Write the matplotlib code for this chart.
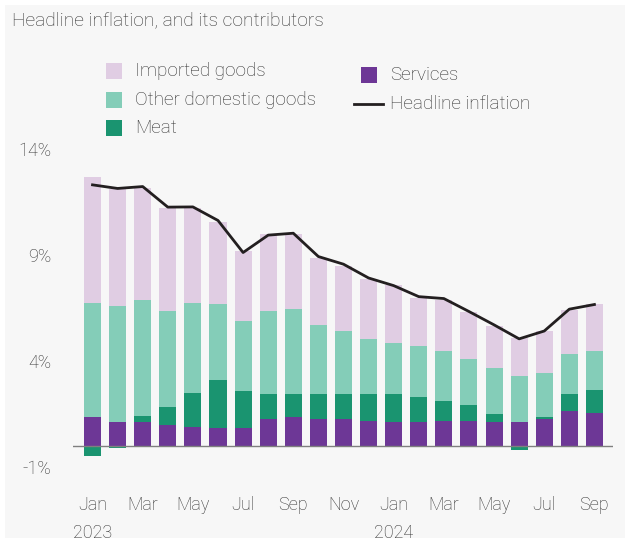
import numpy as np
import matplotlib
matplotlib.use('Agg')
from matplotlib import pyplot as plt
from matplotlib.patches import Rectangle
from matplotlib.lines import Line2D
import matplotlib.transforms as mtransforms

plt.rcParams['font.family'] = ['Roboto', 'DejaVu Sans']
plt.rcParams['font.weight'] = 'light'

# Monthly contributions to headline inflation (percentage points), Jan 2023 - Sep 2024
months = ['Jan', 'Feb', 'Mar', 'Apr', 'May', 'Jun', 'Jul', 'Aug', 'Sep', 'Oct', 'Nov', 'Dec',
          'Jan', 'Feb', 'Mar', 'Apr', 'May', 'Jun', 'Jul', 'Aug', 'Sep']
services = [1.35, 1.13, 1.15, 0.99, 0.91, 0.85, 0.85, 1.29, 1.35, 1.29, 1.29, 1.19,
            1.15, 1.15, 1.19, 1.19, 1.15, 1.13, 1.27, 1.65, 1.57]
meat = [-0.47, -0.10, 0.27, 0.87, 1.61, 2.28, 1.76, 1.16, 1.10, 1.16, 1.16, 1.26,
        1.30, 1.15, 0.95, 0.74, 0.34, -0.17, 0.10, 0.80, 1.09]
other_domestic = [5.40, 5.47, 5.47, 4.52, 4.23, 3.57, 3.27, 3.93, 4.01, 3.23, 2.99, 2.61,
                  2.41, 2.42, 2.34, 2.19, 2.19, 2.17, 2.09, 1.90, 1.82]
imported = [5.94, 5.51, 5.28, 4.85, 4.45, 3.87, 3.30, 3.60, 3.54, 3.20, 3.06, 2.80,
            2.72, 2.26, 2.41, 2.20, 1.98, 1.78, 1.98, 2.07, 2.22]
headline = [12.31, 12.14, 12.23, 11.26, 11.27, 10.63, 9.12, 9.94, 10.03, 8.93, 8.57, 7.92,
            7.56, 7.04, 6.95, 6.34, 5.71, 5.05, 5.42, 6.45, 6.67]

c_imported = '#e0cde3'
c_other = '#84cdb8'
c_meat = '#1a9470'
c_services = '#6d3796'
c_text = '#303030'

x = np.arange(len(months))
services = np.array(services)
meat = np.array(meat)
other_domestic = np.array(other_domestic)
imported = np.array(imported)

fig = plt.figure(figsize=(6.25, 5.43), dpi=100, facecolor='white')
fig.add_artist(Rectangle((5 / 625, 5 / 543), 1, 533 / 543, transform=fig.transFigure,
                         facecolor='#f7f7f7', edgecolor='none', zorder=-10))

ax = fig.add_axes([72.7 / 625, 75.8 / 543, (613 - 72.7) / 625, 318.2 / 543])
ax.set_facecolor('none')

w = 0.68
# positive parts stack upward, negative meat hangs below zero
meat_pos = np.clip(meat, 0, None)
meat_neg = np.clip(meat, None, 0)
ax.bar(x, services, w, color=c_services, zorder=2)
ax.bar(x, meat_pos, w, bottom=services, color=c_meat, zorder=2)
ax.bar(x, meat_neg, w, color=c_meat, zorder=2)
base = services + meat_pos
ax.bar(x, other_domestic, w, bottom=base, color=c_other, zorder=2)
ax.bar(x, imported, w, bottom=base + other_domestic, color=c_imported, zorder=2)
ax.plot(x, headline, color='#231f20', lw=2.0, zorder=3)
ax.axhline(0, color='#7f7f7f', lw=1.0, zorder=4)

ax.set_xlim(-0.79, 20.74)
ax.set_ylim(-1, 14)
for s in ax.spines.values():
    s.set_visible(False)

ax.set_yticks([-1, 4, 9, 14])
ax.set_yticklabels(['-1%', '4%', '9%', '14%'])
ax.tick_params(axis='y', length=0, pad=15.5, labelsize=13, labelcolor=c_text)

ax.set_xticks(x[::2])
ax.set_xticklabels(months[::2])
ax.tick_params(axis='x', length=0, pad=21, labelsize=13, labelcolor=c_text)

trans = mtransforms.blended_transform_factory(ax.transData, fig.transFigure)
ax.text(0, 1 - 533 / 543, '2023', transform=trans, ha='center', va='center',
        fontsize=13, color=c_text)
ax.text(12, 1 - 533 / 543, '2024', transform=trans, ha='center', va='center',
        fontsize=13, color=c_text)

fig.text(12 / 625, 1 - 20 / 543, 'Headline inflation, and its contributors',
         ha='left', va='center', fontsize=13.8, color=c_text)


# Legend, drawn in figure pixels
def px(xp, yp):
    return xp / 625, 1 - yp / 543


def legend_box(xp, yp, color, label):
    fig.add_artist(Rectangle(px(xp, yp + 8), 16 / 625, 16 / 543, transform=fig.transFigure,
                             facecolor=color, edgecolor='none'))
    fig.text(*px(xp + 29, yp), label, ha='left', va='center', fontsize=13.6, color=c_text)


legend_box(106, 71, c_imported, 'Imported goods')
legend_box(106, 100, c_other, 'Other domestic goods')
legend_box(106, 128, c_meat, 'Meat')
legend_box(361, 75, c_services, 'Services')
x0, y0 = px(354, 104)
x1, _ = px(383, 104)
fig.add_artist(Line2D([x0, x1], [y0, y0], transform=fig.transFigure, color='#231f20', lw=2.0))
fig.text(*px(390, 104), 'Headline inflation', ha='left', va='center', fontsize=13.6, color=c_text)

fig.savefig('out.png', dpi=100, facecolor=fig.get_facecolor())
